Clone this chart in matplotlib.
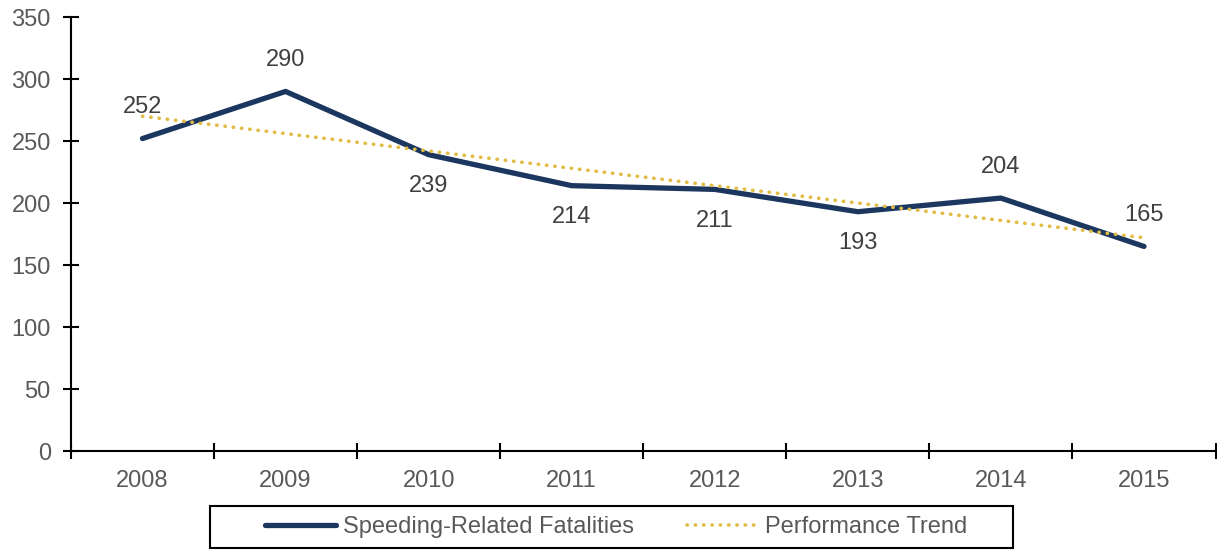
import numpy as np
import matplotlib.pyplot as plt
from matplotlib.patches import Rectangle

years = ["2008", "2009", "2010", "2011", "2012", "2013", "2014", "2015"]
fatalities = [252, 290, 239, 214, 211, 193, 204, 165]
# label above (+1) or below (-1) the point
label_side = [1, 1, -1, -1, -1, -1, 1, 1]
# trend line end values (2008 and 2015)
trend_years = [0, 7]
trend_values = [270, 172]

plt.rcParams["font.family"] = ["Liberation Sans", "DejaVu Sans"]

fig = plt.figure(figsize=(12.17, 5.5), dpi=100)
ax = fig.add_axes([0.0583, 0.18, 0.9405, 0.789])

x = np.arange(len(years))
ax.plot(x, fatalities, color="#1B365F", linewidth=3.8, solid_capstyle="round",
        label="Speeding-Related Fatalities", zorder=3)
ax.plot(trend_years, trend_values, color="#E1BC45", linewidth=2.6,
        linestyle=(0, (0.1, 2.2)), dash_capstyle="round",
        label="Performance Trend", zorder=4)

for xi, v, side in zip(x, fatalities, label_side):
    ax.annotate(str(v), (xi, v), xytext=(0, 22.5 * side), textcoords="offset points",
                ha="center", va="center", fontsize=17, color="#404040")

ax.set_xlim(-0.5, len(years) - 0.5)
ax.set_ylim(0, 350)
ax.set_yticks(range(0, 351, 50))
ax.set_xticks(x)
ax.set_xticklabels(years)
ax.set_xticks(np.arange(-0.5, len(years), 1), minor=True)

ax.tick_params(axis="y", direction="inout", length=11, width=1.5,
               labelsize=17, labelcolor="#595959", pad=9)
ax.tick_params(axis="x", which="major", length=0, labelsize=17,
               labelcolor="#595959", pad=14)
ax.tick_params(axis="x", which="minor", direction="inout", length=11, width=1.5)

for s in ["top", "right"]:
    ax.spines[s].set_visible(False)
for s in ["left", "bottom"]:
    ax.spines[s].set_linewidth(1.5)

# legend box drawn separately so its padding matches the original
fig.patches.append(Rectangle((0.1726, 0.0036), 0.6598, 0.0764, transform=fig.transFigure,
                             fill=False, edgecolor="black", linewidth=1.5))
leg = fig.legend(loc="center", bbox_to_anchor=(0.506, 0.0418), ncol=2,
                 fontsize=17, frameon=False, handlelength=3.0, columnspacing=2.25,
                 borderpad=0, borderaxespad=0, handletextpad=0.3)
for t in leg.get_texts():
    t.set_color("#595959")

fig.savefig("out.png", dpi=100)
